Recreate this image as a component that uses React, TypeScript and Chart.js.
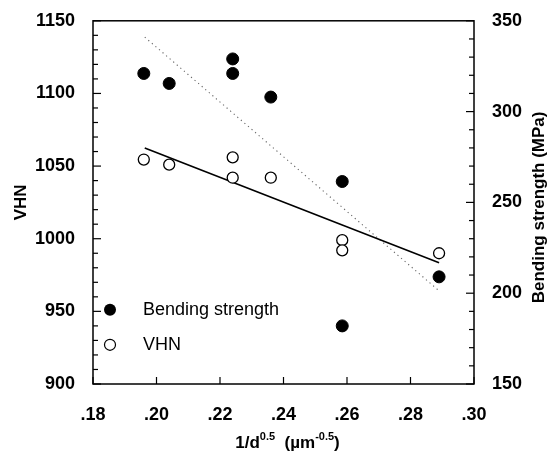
import React, { useEffect, useRef } from 'react';
import { Chart, registerables } from 'chart.js';

Chart.register(...registerables);

// ---- data ----
const sampleX = [0.196, 0.204, 0.224, 0.224, 0.236, 0.2585, 0.2585, 0.289];
const bendingStrength = [321, 315.5, 329, 321, 308, 261.5, 182, 209];
const vhnValues = [1054.5, 1051, 1056, 1042, 1042, 999, 992, 990];

const vhnFitX = [0.1963, 0.289];
const vhnFitY = [1062.5, 983.5];
const bendFitX = [0.1963, 0.2892];
const bendFitY = [341, 201];

const xTicks = [0.18, 0.2, 0.22, 0.24, 0.26, 0.28, 0.3];
const vhnTicks = [900, 950, 1000, 1050, 1100, 1150];
const mpaTicks = [150, 200, 250, 300, 350];

const legendLabels = ['Bending strength', 'VHN'];

const FONT = '"Liberation Sans", Arial, Helvetica, sans-serif';

const toPoints = (xs: number[], ys: number[]) => xs.map((x, i) => ({ x, y: ys[i] }));

const decorPlugin = {
  id: 'decor',
  afterDatasetsDraw(chart: any) {
    const { ctx, chartArea, scales } = chart;
    const { left, right, top, bottom } = chartArea;
    ctx.save();
    ctx.strokeStyle = '#000';
    ctx.lineWidth = 1.5;
    ctx.strokeRect(left, top, right - left, bottom - top);

    ctx.lineWidth = 1.2;
    const line = (x1: number, y1: number, x2: number, y2: number) => {
      ctx.beginPath();
      ctx.moveTo(x1, y1);
      ctx.lineTo(x2, y2);
      ctx.stroke();
    };
    for (let v = vhnTicks[0]; v <= vhnTicks[vhnTicks.length - 1]; v += 10) {
      const y = scales.y.getPixelForValue(v);
      line(left, y, left + (v % 50 === 0 ? 8 : 5), y);
    }
    for (let v = mpaTicks[0]; v <= mpaTicks[mpaTicks.length - 1]; v += 10) {
      const y = scales.y2.getPixelForValue(v);
      line(right, y, right - (v % 50 === 0 ? 8 : 5), y);
    }
    xTicks.forEach((v) => {
      const x = scales.x.getPixelForValue(v);
      line(x, bottom, x, bottom - 7);
    });

    // legend
    ctx.fillStyle = '#000';
    ctx.font = `18px ${FONT}`;
    ctx.textBaseline = 'middle';
    ctx.textAlign = 'left';
    const lx = left + 17;
    const ly1 = top + 289;
    const ly2 = top + 324;
    ctx.beginPath();
    ctx.arc(lx, ly1, 6, 0, Math.PI * 2);
    ctx.fill();
    ctx.beginPath();
    ctx.arc(lx, ly2, 5.5, 0, Math.PI * 2);
    ctx.fillStyle = '#fff';
    ctx.fill();
    ctx.stroke();
    ctx.fillStyle = '#000';
    ctx.fillText(legendLabels[0], left + 50, ly1);
    ctx.fillText(legendLabels[1], left + 50, ly2);

    // axis titles
    ctx.font = `bold 17px ${FONT}`;
    ctx.textAlign = 'center';
    ctx.save();
    ctx.translate(21, (top + bottom) / 2);
    ctx.rotate(-Math.PI / 2);
    ctx.fillText('VHN', 0, 0);
    ctx.restore();
    ctx.save();
    ctx.translate(539, (top + bottom) / 2 + 5);
    ctx.rotate(-Math.PI / 2);
    ctx.fillText('Bending strength (MPa)', 0, 0);
    ctx.restore();

    // x title with superscripts
    const parts: [string, boolean][] = [
      ['1/d', false],
      ['0.5', true],
      ['  (\u00b5m', false],
      ['-0.5', true],
      [')', false],
    ];
    const big = `bold 17px ${FONT}`;
    const small = `bold 11px ${FONT}`;
    let total = 0;
    parts.forEach(([t, sup]) => {
      ctx.font = sup ? small : big;
      total += ctx.measureText(t).width;
    });
    let x = (left + right) / 2 - total / 2 + 4;
    const ty = 443;
    ctx.textAlign = 'left';
    parts.forEach(([t, sup]) => {
      ctx.font = sup ? small : big;
      ctx.fillText(t, x, sup ? ty - 6 : ty);
      x += ctx.measureText(t).width;
    });
    ctx.restore();
  },
};

export default function App() {
  const ref = useRef<HTMLCanvasElement | null>(null);

  useEffect(() => {
    if (!ref.current) return;
    const tickFont = { family: FONT, size: 18, weight: 'bold' as const };
    const plain = (v: any) => String(v);
    const chart = new Chart(ref.current, {
      type: 'scatter',
      data: {
        datasets: [
          {
            label: 'Bending strength',
            data: toPoints(sampleX, bendingStrength),
            yAxisID: 'y2',
            pointRadius: 6,
            pointBackgroundColor: '#000',
            pointBorderColor: '#000',
            pointBorderWidth: 1,
            showLine: false,
            order: 1,
          },
          {
            label: 'VHN',
            data: toPoints(sampleX, vhnValues),
            yAxisID: 'y',
            pointRadius: 5.5,
            pointBackgroundColor: '#fff',
            pointBorderColor: '#000',
            pointBorderWidth: 1.3,
            showLine: false,
            order: 1,
          },
          {
            label: 'VHN fit',
            data: toPoints(vhnFitX, vhnFitY),
            yAxisID: 'y',
            showLine: true,
            borderColor: '#000',
            borderWidth: 1.6,
            pointRadius: 0,
            order: 2,
          },
          {
            label: 'Bending fit',
            data: toPoints(bendFitX, bendFitY),
            yAxisID: 'y2',
            showLine: true,
            borderColor: '#666',
            borderWidth: 1.1,
            borderDash: [1.2, 3.5],
            pointRadius: 0,
            order: 2,
          },
        ],
      },
      options: {
        responsive: false,
        animation: false,
        layout: { padding: { top: 11, left: 0, right: 0, bottom: 0 } },
        plugins: { legend: { display: false }, tooltip: { enabled: false } },
        scales: {
          x: {
            type: 'linear',
            min: xTicks[0],
            max: xTicks[xTicks.length - 1],
            afterBuildTicks: (s: any) => {
              s.ticks = xTicks.map((v) => ({ value: v }));
            },
            ticks: {
              font: tickFont,
              color: '#000',
              padding: 12,
              maxRotation: 0,
              autoSkip: false,
              callback: (v: any) => Number(v).toFixed(2).replace(/^0/, ''),
            },
            grid: { display: false },
            border: { display: false },
            afterFit: (s: any) => {
              s.height = 77;
            },
          },
          y: {
            type: 'linear',
            position: 'left',
            min: vhnTicks[0],
            max: vhnTicks[vhnTicks.length - 1],
            afterBuildTicks: (s: any) => {
              s.ticks = vhnTicks.map((v) => ({ value: v }));
            },
            ticks: { font: tickFont, color: '#000', padding: 10, autoSkip: false, callback: plain },
            grid: { display: false },
            border: { display: false },
            afterFit: (s: any) => {
              s.width = 93;
            },
          },
          y2: {
            type: 'linear',
            position: 'right',
            min: mpaTicks[0],
            max: mpaTicks[mpaTicks.length - 1],
            afterBuildTicks: (s: any) => {
              s.ticks = mpaTicks.map((v) => ({ value: v }));
            },
            ticks: { font: tickFont, color: '#000', padding: 10, autoSkip: false, callback: plain },
            grid: { display: false },
            border: { display: false },
            afterFit: (s: any) => {
              s.width = 75;
            },
          },
        },
      },
      plugins: [decorPlugin],
    });
    return () => chart.destroy();
  }, []);

  return (
    <div style={{ position: 'fixed', left: 0, top: 0, width: 549, height: 461, background: '#fff' }}>
      <canvas ref={ref} width={549} height={461} style={{ display: 'block' }} />
    </div>
  );
}
